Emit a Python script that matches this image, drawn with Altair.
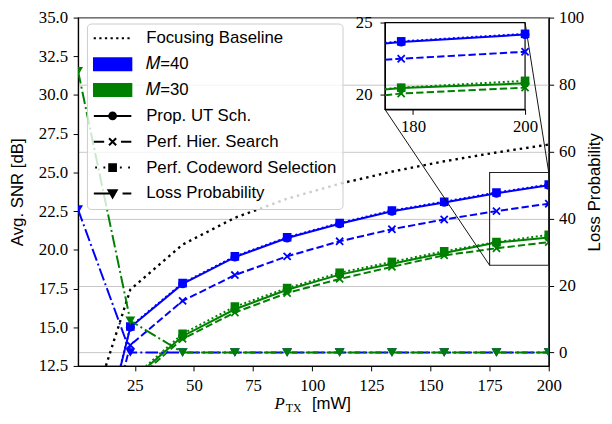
import altair as alt
import pandas as pd

# ---------------- data ----------------
P_TX = [1, 23.1, 45.2, 67.3, 89.4, 111.6, 133.7, 155.8, 177.9, 200]
BASELINE = [6.9, 17.43, 20.34, 22.07, 23.3, 24.27, 25.05, 25.72, 26.29, 26.8]
M40_PROP = [1.3, 15.0, 17.8, 19.53, 20.76, 21.68, 22.49, 23.06, 23.65, 24.17]
M40_HIER = [1.0, 13.84, 16.7, 18.37, 19.58, 20.55, 21.33, 21.96, 22.5, 22.98]
M40_CODE = [1.4, 15.05, 17.85, 19.58, 20.81, 21.73, 22.54, 23.11, 23.7, 24.22]
M30_PROP = [-2.1, 11.5, 14.42, 16.16, 17.42, 18.4, 19.1, 19.8, 20.47, 20.8]
M30_HIER = [-2.4, 11.3, 14.25, 15.95, 17.21, 18.12, 18.9, 19.64, 20.1, 20.5]
M30_CODE = [-1.9, 11.6, 14.58, 16.33, 17.53, 18.52, 19.22, 19.91, 20.5, 20.97]
LOSS_M40 = [42.7, 0, 0, 0, 0, 0, 0, 0, 0, 0]
LOSS_M30 = [84.0, 9.5, 0, 0, 0, 0, 0, 0, 0, 0]

# inset (zoomed window 175..200 mW)
INSET_P = [175, 177.9, 200]
IN_M40_PROP = [23.55, 23.65, 24.17]
IN_M40_HIER = [22.43, 22.5, 22.98]
IN_M40_CODE = [23.6, 23.7, 24.22]
IN_M30_PROP = [20.38, 20.47, 20.8]
IN_M30_HIER = [19.97, 20.1, 20.5]
IN_M30_CODE = [20.42, 20.5, 20.97]

LEGEND_LABELS = ["Focusing Baseline", "\U0001D440=40", "\U0001D440=30", "Prop. UT Sch.",
                 "Perf. Hier. Search", "Perf. Codeword Selection", "Loss Probability"]

X_TICKS = [25, 50, 75, 100, 125, 150, 175, 200]
Y_TICKS = [12.5, 15.0, 17.5, 20.0, 22.5, 25.0, 27.5, 30.0, 32.5, 35.0]
LOSS_TICKS = [0, 20, 40, 60, 80, 100]
INSET_X_TICKS = [180, 200]
INSET_Y_TICKS = [20, 25]

# ---------------- layout / style ----------------
W, H = 477, 353
X_DOM = [1, 200]
Y_DOM = [12.5, 35]
LOSS_DOM = [-4, 100]
INSET_XLIM = [175, 200]
INSET_YLIM = [19, 25]
IN_X0, IN_X1, IN_Y0, IN_Y1 = 311, 453, 5, 93   # inset box in plot pixels

BLUE, GREEN, BLACK = "#0000ff", "#008000", "#000000"
LW = 2
DASH = [7.4, 3.2]
DOT = [2, 2.6]
DASHDOT = [12.8, 3.2, 2, 3.2]
BASE_DOT = [2.5, 4.1]
X_SHAPE = "M-1,-1L1,1M-1,1L1,-1"
S_CIRCLE, S_SQUARE, S_X, S_TRI = 80, 76, 52, 100

SERIF = "Liberation Serif"
SANS = "Liberation Sans"


def sx(dom, **kw):
    return alt.Scale(domain=dom, nice=False, zero=False, **kw)


X_MAIN = alt.X("x:Q", title=None, scale=sx(X_DOM),
               axis=alt.Axis(values=X_TICKS, format="d", grid=False, labelPadding=7,
                             labelFlush=False, labelOverlap=False))
Y_MAIN = alt.Y("y:Q", title="Avg. SNR [dB]", scale=sx(Y_DOM),
               axis=alt.Axis(orient="left", values=Y_TICKS, format=".1f", grid=False,
                             labelPadding=5.5, labelFlush=False, labelOverlap=False,
                             titleAngle=270, titleAlign="center", titleBaseline="alphabetic",
                             titleX=-56.5, titleY=H / 2))
X_LOSS = alt.X("x:Q", title=None, scale=sx(X_DOM), axis=None)
Y_LOSS = alt.Y("y:Q", title="Loss Probability", scale=sx(LOSS_DOM),
               axis=alt.Axis(orient="right", values=LOSS_TICKS, format="d", grid=True,
                             gridColor="#c6c6c6", gridWidth=1, labelPadding=5,
                             labelFlush=False, labelOverlap=False,
                             titleAngle=270, titleAlign="center", titleBaseline="alphabetic",
                             titleX=51.5, titleY=H / 2))
X_IN = alt.X("x:Q", title=None, scale=sx(INSET_XLIM, range=[IN_X0, IN_X1]),
             axis=alt.Axis(orient="bottom", offset=IN_Y1 - H, values=INSET_X_TICKS, format="d",
                           grid=False, labelPadding=4, labelFlush=False, labelOverlap=False))
Y_IN = alt.Y("y:Q", title=None, scale=sx(INSET_YLIM, range=[IN_Y1, IN_Y0]),
             axis=alt.Axis(orient="left", offset=-IN_X0, values=INSET_Y_TICKS, format="d",
                           grid=False, labelPadding=8, labelFlush=False, labelOverlap=False))


def line(xs, ys, color, dash, ex, ey, width=LW, clip=True):
    kw = dict(color=color, strokeWidth=width, clip=clip)
    if dash:
        kw["strokeDash"] = dash
    return alt.Chart(pd.DataFrame({"x": xs, "y": ys})).mark_line(**kw).encode(x=ex, y=ey)


def pts(xs, ys, color, shape, size, ex, ey, filled=True, clip=True):
    return alt.Chart(pd.DataFrame({"x": xs, "y": ys})).mark_point(
        shape=shape, size=size, filled=filled, color=color, opacity=1,
        strokeWidth=1.8, clip=clip).encode(x=ex, y=ey)


def series(xs, ys, color, dash, shape, size, ex, ey, filled=True, clip=True, mx=None, my=None):
    mx = xs if mx is None else mx
    my = ys if my is None else my
    return [line(xs, ys, color, dash, ex, ey, clip=clip),
            pts(mx, my, color, shape, size, ex, ey, filled=filled, clip=clip)]


# ---------------- main SNR axes ----------------
main_layers = [line(P_TX, BASELINE, BLACK, BASE_DOT, X_MAIN, Y_MAIN, width=2.4)]
for col, prop, hier, code in [(BLUE, M40_PROP, M40_HIER, M40_CODE),
                              (GREEN, M30_PROP, M30_HIER, M30_CODE)]:
    main_layers += series(P_TX, prop, col, None, "circle", S_CIRCLE, X_MAIN, Y_MAIN)
    main_layers += series(P_TX, hier, col, DASH, X_SHAPE, S_X, X_MAIN, Y_MAIN, filled=False)
    main_layers += series(P_TX, code, col, DOT, "square", S_SQUARE, X_MAIN, Y_MAIN)


def px_to_x(px):
    return X_DOM[0] + px / W * (X_DOM[1] - X_DOM[0])


def py_to_y(py):
    return Y_DOM[1] - py / H * (Y_DOM[1] - Y_DOM[0])


box_df = pd.DataFrame({"x": [INSET_XLIM[0]], "x2": [INSET_XLIM[1]],
                       "y": [INSET_YLIM[0]], "y2": [INSET_YLIM[1]]})
main_layers.append(alt.Chart(box_df).mark_rect(fill="transparent", stroke="#222222", strokeWidth=1.1)
                   .encode(x=X_MAIN, x2="x2:Q", y=Y_MAIN, y2="y2:Q"))
conn_df = pd.DataFrame({
    "x": [INSET_XLIM[0], INSET_XLIM[1]],
    "y": [INSET_YLIM[0], INSET_YLIM[1]],
    "x2": [px_to_x(IN_X0), px_to_x(IN_X1)],
    "y2": [py_to_y(IN_Y1), py_to_y(IN_Y0)],
})
main_layers.append(alt.Chart(conn_df).mark_rule(color="#111111", strokeWidth=1)
                   .encode(x=X_MAIN, x2="x2:Q", y=Y_MAIN, y2="y2:Q"))
main_group = alt.layer(*main_layers)

# ---------------- loss probability (right axis) ----------------
loss_layers = []
loss_layers += series(P_TX, LOSS_M40, BLUE, DASHDOT, "triangle-down", S_TRI, X_LOSS, Y_LOSS)
loss_layers += series(P_TX, LOSS_M30, GREEN, DASHDOT, "triangle-down", S_TRI, X_LOSS, Y_LOSS)
loss_group = alt.layer(*loss_layers)

# ---------------- inset ----------------
frame_df = pd.DataFrame({"x": [INSET_XLIM[0]], "x2": [INSET_XLIM[1]],
                         "y": [INSET_YLIM[0]], "y2": [INSET_YLIM[1]]})
inset_layers = [alt.Chart(frame_df).mark_rect(fill="transparent", stroke=BLACK, strokeWidth=1.2)
                .encode(x=X_IN, x2="x2:Q", y=Y_IN, y2="y2:Q")]
for col, prop, hier, code in [(BLUE, IN_M40_PROP, IN_M40_HIER, IN_M40_CODE),
                              (GREEN, IN_M30_PROP, IN_M30_HIER, IN_M30_CODE)]:
    inset_layers += series(INSET_P, prop, col, None, "circle", S_CIRCLE, X_IN, Y_IN, clip=False,
                           mx=INSET_P[1:], my=prop[1:])
    inset_layers += series(INSET_P, hier, col, DASH, X_SHAPE, S_X, X_IN, Y_IN, filled=False,
                           clip=False, mx=INSET_P[1:], my=hier[1:])
    inset_layers += series(INSET_P, code, col, DOT, "square", S_SQUARE, X_IN, Y_IN, clip=False,
                           mx=INSET_P[1:], my=code[1:])
inset_group = alt.layer(*inset_layers)

# ---------------- legend (custom symbols) ----------------
LEGEND_SHAPES = [
    "M-1.01,0h0.12M-0.71,0h0.12M-0.41,0h0.12M-0.11,0h0.12M0.19,0h0.12M0.49,0h0.12M0.79,0h0.12",
    "M-1,-0.32H1V0.32H-1Z",
    "M-1,-0.32H1V0.32H-1Z",
    "M-1,0H1M0.18,0A0.18,0.18,0,1,1,-0.18,0A0.18,0.18,0,1,1,0.18,0Z",
    "M-1,0H-0.45M0.45,0H1M-0.19,-0.19L0.19,0.19M-0.19,0.19L0.19,-0.19",
    "M-0.93,0H-0.83M-0.49,0H-0.39M0.39,0H0.49M0.83,0H0.93M-0.18,-0.18H0.18V0.18H-0.18Z",
    "M-1,0H0.1M0.53,0H1M-0.22,-0.17H0.22L0,0.22Z",
]
LEGEND_COLORS = [BLACK, BLUE, GREEN, BLACK, BLACK, BLACK, BLACK]

leg = alt.Legend(
    title=None, orient="none", legendX=9, legendY=6, symbolSize=1444, symbolStrokeWidth=2,
    labelFont=SANS, labelFontSize=17, labelColor="black", labelOffset=14, labelLimit=400,
    padding=6, rowPadding=8.2, clipHeight=18, fillColor="rgba(255,255,255,0.8)",
    strokeColor="#cccccc", cornerRadius=4, symbolOpacity=1,
)
legend_layer = alt.Chart(pd.DataFrame({"k": LEGEND_LABELS})).transform_filter("false").mark_point(
    filled=True, opacity=1, size=1444, strokeWidth=2).encode(
    fill=alt.Fill("k:N", scale=alt.Scale(domain=LEGEND_LABELS, range=LEGEND_COLORS), legend=leg),
    stroke=alt.Stroke("k:N", scale=alt.Scale(domain=LEGEND_LABELS, range=LEGEND_COLORS), legend=leg),
    shape=alt.Shape("k:N", scale=alt.Scale(domain=LEGEND_LABELS, range=LEGEND_SHAPES), legend=leg),
)


# ---------------- x-axis title with subscript ----------------
def label(txt, font, size, x, y, style="normal"):
    return alt.Chart(pd.DataFrame({"t": [txt]})).mark_text(
        font=font, fontSize=size, fontStyle=style, align="left", baseline="alphabetic",
        color="black").encode(text="t:N", x=alt.value(x), y=alt.value(y))


xtitle = [label("P", SERIF, 17, 199, 397, style="italic"),
          label("TX", SERIF, 12, 210.5, 400),
          label("[mW]", SANS, 17, 237, 397)]

chart = alt.layer(main_group, loss_group, inset_group, legend_layer, *xtitle).resolve_scale(
    x="independent", y="independent"
).properties(
    width=W, height=H,
    autosize=alt.AutoSizeParams(type="none"),
    padding={"left": 71, "top": 7, "right": 56, "bottom": 48},
).configure_view(stroke="black", strokeWidth=1.2).configure_axis(
    labelFont=SERIF, labelFontSize=17, labelColor="black",
    titleFont=SANS, titleFontSize=17, titleFontWeight="normal", titleColor="black",
    tickColor="black", tickSize=5, tickWidth=1, domainColor="black", domainWidth=1.2,
)

chart.save("out.html", embed_options={"renderer": "svg", "actions": False})
